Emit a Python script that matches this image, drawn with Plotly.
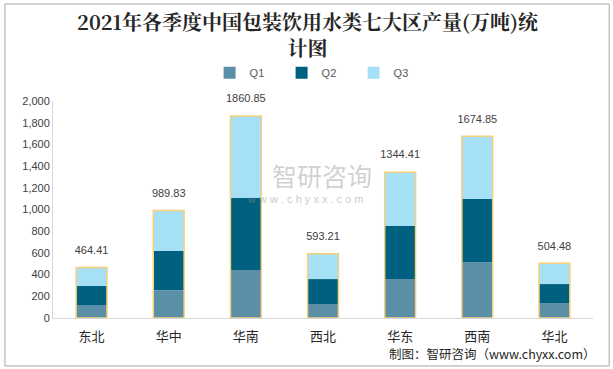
import plotly.graph_objects as go

regions = ["东北", "华中", "华南", "西北", "华东", "西南", "华北"]
q1 = [120, 255, 442, 129, 359, 513, 138]
q2 = [175, 362, 664, 230, 489, 584, 175]
totals = [464.41, 989.83, 1860.85, 593.21, 1344.41, 1674.85, 504.48]
q3 = [round(t - a - b, 2) for t, a, b in zip(totals, q1, q2)]
total_labels = ["464.41", "989.83", "1860.85", "593.21", "1344.41", "1674.85", "504.48"]
y_ticks = [0, 200, 400, 600, 800, 1000, 1200, 1400, 1600, 1800, 2000]

base2 = q1
base3 = [a + b for a, b in zip(q1, q2)]

fig = go.Figure()
fig.add_trace(go.Bar(name="Q1", x=regions, y=q1, base=[0]*7,
                     marker=dict(color="#5B8FA8", line=dict(width=0)), width=0.4))
fig.add_trace(go.Bar(name="Q2", x=regions, y=q2, base=base2,
                     marker=dict(color="#00607F", line=dict(width=0)), width=0.4))
fig.add_trace(go.Bar(name="Q3", x=regions, y=q3, base=base3,
                     marker=dict(color="#A6E0F7", line=dict(width=0)), width=0.4))
fig.add_trace(go.Bar(name="total", x=regions, y=totals, base=[0]*7, showlegend=False,
                     marker=dict(color="rgba(0,0,0,0)", line=dict(color="#F7CF79", width=1.5)),
                     width=0.4, hoverinfo="skip"))
fig.add_trace(go.Scatter(x=regions, y=totals, mode="markers+text", text=total_labels,
                         textposition="top center", showlegend=False, cliponaxis=False,
                         marker=dict(size=16, color="rgba(0,0,0,0)"),
                         textfont=dict(size=11, color="#404040", family="Liberation Sans, Arial"),
                         hoverinfo="skip"))

fig.update_layout(
    width=613, height=369,
    barmode="overlay",
    paper_bgcolor="white", plot_bgcolor="white",
    margin=dict(l=53, r=20, t=101, b=51, autoexpand=False),
    legend=dict(orientation="h", x=0.49, xanchor="center", y=1.13, yanchor="middle",
                font=dict(size=11, color="#595959", family="Liberation Sans, Arial"),
                itemwidth=30, traceorder="normal", entrywidth=27),
    showlegend=True,
    font=dict(family="Liberation Sans, Arial"),
)
fig.update_yaxes(range=[0, 2000], tickvals=y_ticks, tickformat=",d", showgrid=False,
                 showline=True, linecolor="#D9D9D9", linewidth=1, ticks="",
                 tickfont=dict(size=11, color="#404040"), zeroline=False)
fig.update_xaxes(showgrid=False, showline=True, linecolor="#D9D9D9", linewidth=1, ticks="",
                 tickfont=dict(size=13, color="#262626", family="Noto Sans CJK SC"),
                 ticklabelstandoff=6, range=[-0.5, 6.5])

# title (two lines in one text block)
fig.add_annotation(text="<b>2021年各季度中国包装饮用水类七大区产量(万吨)统<br>计图</b>",
                   xref="paper", yref="paper",
                   x=0.472, y=1.306, xanchor="center", yanchor="middle", showarrow=False,
                   font=dict(size=20, color="#262626", family="Noto Serif CJK SC, Noto Sans CJK SC"))
# watermark
fig.add_annotation(text="智研咨询", xref="paper", yref="paper", x=0.498, y=0.66,
                   showarrow=False, font=dict(size=25, color="rgba(150,150,150,0.45)",
                                              family="Noto Sans CJK SC"))
fig.add_annotation(text="w w w . c h y x x . c o m", xref="paper", yref="paper", x=0.468, y=0.548,
                   showarrow=False, font=dict(size=11, color="rgba(150,150,150,0.5)"))
# footer
fig.add_annotation(text="制图：智研咨询（www.chyxx.com）", xref="paper", yref="paper",
                   x=1.009, y=-0.165, xanchor="right", yanchor="middle", showarrow=False,
                   font=dict(size=12.5, color="#262626", family="Noto Sans CJK SC"))
# outer border
fig.add_shape(type="rect", xref="paper", yref="paper", x0=-0.089, x1=1.03, y0=-0.221, y1=1.447,
              line=dict(color="#A6A6A6", width=1), fillcolor="rgba(0,0,0,0)", layer="below")

fig.write_html("out.html", config={"displayModeBar": False},
               post_script="document.body.style.margin='0';")
